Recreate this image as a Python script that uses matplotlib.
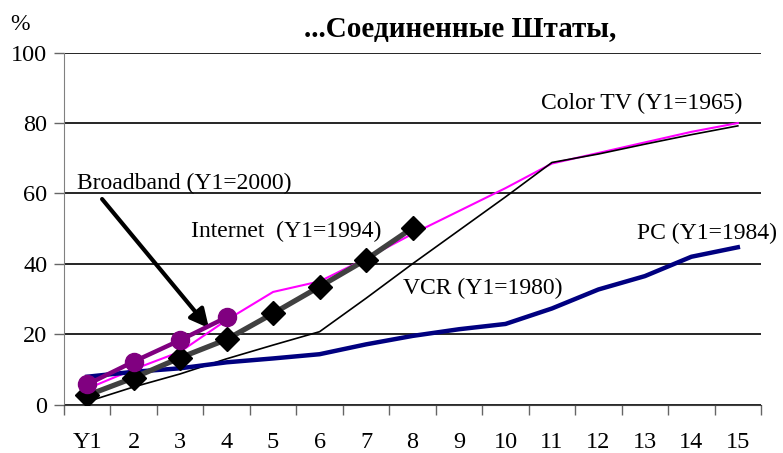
import matplotlib.pyplot as plt

plt.rcParams['font.family'] = ['Liberation Serif', 'DejaVu Serif']

# category labels along the x axis
years = ['Y1', '2', '3', '4', '5', '6', '7', '8', '9', '10', '11', '12', '13', '14', '15']

# adoption, % of households
color_tv = [4.5, 10.0, 15.0, 24.0, 32.0, 35.0, 41.5, 48.5, 55.0, 61.5, 68.5, 71.5, 74.5, 77.5, 80.0]
vcr = [0.8, 5.0, 8.7, 13.0, 16.9, 20.7, 30.2, 40.0, 49.5, 59.0, 68.8, 71.2, 74.0, 76.7, 79.2]
pc = [7.9, 9.3, 10.3, 12.0, 13.1, 14.3, 17.1, 19.5, 21.4, 22.9, 27.3, 32.7, 36.5, 42.0, 44.7]
internet = [2.6, 7.6, 13.3, 18.5, 25.9, 33.5, 41.2, 50.2]
broadband = [5.7, 12.2, 18.3, 24.8]

x = list(range(len(years)))

fig = plt.figure(figsize=(7.83, 4.53), dpi=100)
ax = fig.add_axes([0.0817, 0.107, 0.8903, 0.7767])

ax.plot(x, color_tv, color='#FF00FF', lw=1.5, zorder=3)
ax.plot(x, vcr, color='black', lw=1.2, zorder=3)
ax.plot(x, pc, color='#000080', lw=3.2, zorder=3)
ax.plot(x[:len(internet)], internet, color='#404040', lw=3.8, marker='D',
        ms=12.5, mfc='black', mec='black', zorder=4)
ax.plot(x[:len(broadband)], broadband, color='#800080', lw=3.2, marker='o',
        ms=13, mfc='#800080', mec='#800080', zorder=5)

ax.set_xlim(-0.5, len(years) - 0.5)
ax.set_ylim(0, 100)
ax.set_yticks([0, 20, 40, 60, 80, 100])
ax.yaxis.grid(True, color='black', lw=1.2)
ax.set_axisbelow(True)

ax.set_xticks(x)
ax.set_xticklabels(years)
ax.set_xticks([i - 0.5 for i in range(len(years) + 1)], minor=True)
ax.tick_params(axis='x', which='major', length=0, pad=20, labelsize=17.5)
ax.tick_params(axis='x', which='minor', length=7, width=1, color='#666666', direction='out')
ax.tick_params(axis='y', length=7, width=1, color='#666666', labelsize=17.5, pad=5)

for s in ['top', 'right']:
    ax.spines[s].set_visible(False)
ax.spines['left'].set_color('#808080')
ax.spines['bottom'].set_color('#404040')

fs = 17
ax.text(-0.22, 62.9, 'Broadband (Y1=2000)', fontsize=fs, va='center')
ax.text(2.24, 49.3, 'Internet  (Y1=1994)', fontsize=fs, va='center')
ax.text(9.77, 85.7, 'Color TV (Y1=1965)', fontsize=fs, va='center')
ax.text(11.82, 48.6, 'PC (Y1=1984)', fontsize=fs, va='center')
ax.text(6.8, 33.0, 'VCR (Y1=1980)', fontsize=fs, va='center')

ax.annotate('', xy=(2.62, 21.7), xytext=(0.32, 58.4),
            arrowprops=dict(arrowstyle='-|>', color='black', lw=3,
                            mutation_scale=28, shrinkA=0, shrinkB=0))

fig.text(460 / 783, 1 - 30 / 453, '...Соединенные Штаты,', fontsize=21,
         fontweight='bold', ha='center', va='center')
fig.text(20 / 783, 1 - 24 / 453, '%', fontsize=17, ha='center', va='center')

fig.savefig('out.png', dpi=100)
